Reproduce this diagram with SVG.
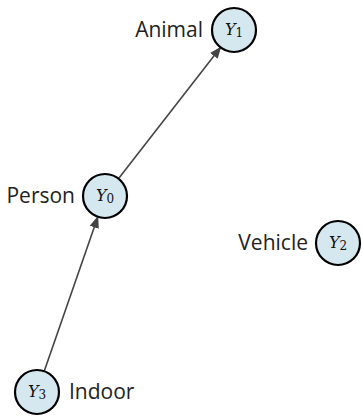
<svg xmlns="http://www.w3.org/2000/svg" width="362" height="416" viewBox="0 0 362 416">
<style>
.node circle{fill:#d5e8ef;stroke:#000;stroke-width:2.2}
.lab{font-family:"Open Sans","Noto Sans",sans-serif;font-size:21px;fill:#222}
.math{font-family:"DejaVu Serif","Liberation Serif",serif;font-style:italic;font-size:16px;fill:#111}
.sub{font-style:normal;font-size:12px}
.edge{stroke:#444;stroke-width:1.6;fill:none}
</style>
<defs>
<marker id="ah2" viewBox="0 0 10 10" refX="9" refY="5" markerWidth="12" markerHeight="12" orient="auto" markerUnits="userSpaceOnUse">
<path d="M0,1 L10,5 L0,9 z" fill="#444"/>
</marker>
</defs>
<g id="edges">
<line class="edge" x1="105" y1="196" x2="220.5" y2="47.4" marker-end="url(#ah2)"/>
<line class="edge" x1="37" y1="392" x2="97.8" y2="217" marker-end="url(#ah2)"/>
</g>
<g id="Y1" class="node">
<circle cx="234" cy="30" r="22"/>
<text class="math" x="234" y="35" text-anchor="middle">Y<tspan class="sub" dy="2">1</tspan></text>
<text class="lab" x="203" y="37" text-anchor="end">Animal</text>
</g>
<g id="Y0" class="node">
<circle cx="105" cy="196" r="22"/>
<text class="math" x="105" y="201" text-anchor="middle">Y<tspan class="sub" dy="2">0</tspan></text>
<text class="lab" x="75" y="203" text-anchor="end">Person</text>
</g>
<g id="Y2" class="node">
<circle cx="338" cy="243" r="22"/>
<text class="math" x="338" y="248" text-anchor="middle">Y<tspan class="sub" dy="2">2</tspan></text>
<text class="lab" x="308" y="250" text-anchor="end">Vehicle</text>
</g>
<g id="Y3" class="node">
<circle cx="37" cy="392" r="22"/>
<text class="math" x="37" y="397" text-anchor="middle">Y<tspan class="sub" dy="2">3</tspan></text>
<text class="lab" x="69" y="399">Indoor</text>
</g>
</svg>
